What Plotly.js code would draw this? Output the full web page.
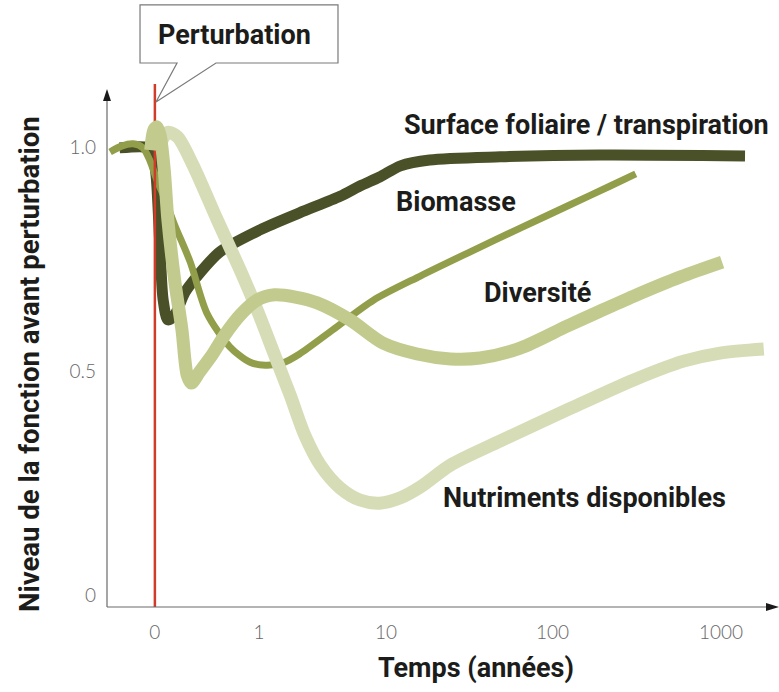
<!DOCTYPE html>
<html>
<head>
<meta charset="utf-8">
<script src="https://cdn.plot.ly/plotly-3.0.1.min.js"></script>
<style>html,body{margin:0;padding:0;background:#fff;}#chart{width:779px;height:692px;}</style>
</head>
<body>
<div id="chart"></div>
<script>
// x positions on the schematic time axis (0, 1, 10, 100, 1000 years at ticks)
const tickVals = [0, 1, 2.22, 3.82, 5.44];
const tickText = ["0", "1", "10", "100", "1000"];
const yTickVals = [0, 0.5, 1.0];
const yTickText = ["0", "0.5", "1.0"];

const surfaceX = [-0.34, -0.10, -0.03, 0.01, 0.05, 0.08, 0.125, 0.19, 0.29, 0.40, 0.625, 1.01, 1.39, 1.78, 1.97, 2.16, 2.36, 2.64, 3.32, 4.28, 5.67];
const surfaceY = [0.998, 1.0, 0.993, 0.94, 0.77, 0.658, 0.614, 0.625, 0.676, 0.71, 0.766, 0.815, 0.853, 0.89, 0.913, 0.933, 0.958, 0.971, 0.978, 0.982, 0.98];

const biomasseX = [-0.43, -0.32, -0.21, -0.115, -0.05, 0.02, 0.10, 0.19, 0.34, 0.50, 0.72, 0.91, 1.06, 1.23, 1.39, 1.71, 2.10, 2.55, 3.03, 3.51, 3.99, 4.375, 4.62];
const biomasseY = [0.989, 1.002, 1.007, 0.998, 0.971, 0.926, 0.882, 0.826, 0.743, 0.629, 0.554, 0.52, 0.513, 0.518, 0.538, 0.592, 0.658, 0.712, 0.766, 0.819, 0.871, 0.913, 0.94];

const diversiteX = [-0.04, -0.01, 0.02, 0.05, 0.09, 0.125, 0.19, 0.26, 0.31, 0.35, 0.43, 0.55, 0.67, 0.82, 0.98, 1.15, 1.35, 1.56, 1.875, 2.19, 2.52, 2.84, 3.125, 3.51, 3.96, 4.28, 4.60, 5.05, 5.45];
const diversiteY = [0.993, 1.038, 1.045, 1.027, 0.949, 0.837, 0.703, 0.592, 0.491, 0.473, 0.498, 0.536, 0.58, 0.625, 0.658, 0.67, 0.665, 0.652, 0.614, 0.5625, 0.538, 0.527, 0.529, 0.551, 0.60, 0.634, 0.667, 0.71, 0.743];

const nutrimentsX = [0.07, 0.125, 0.22, 0.365, 0.60, 0.82, 0.99, 1.15, 1.30, 1.44, 1.59, 1.78, 1.97, 2.16, 2.36, 2.55, 2.84, 3.32, 3.96, 4.60, 5.08, 5.43, 5.85];
const nutrimentsY = [1.016, 1.033, 1.022, 0.96, 0.837, 0.725, 0.632, 0.536, 0.446, 0.357, 0.29, 0.239, 0.212, 0.205, 0.217, 0.241, 0.29, 0.344, 0.413, 0.48, 0.522, 0.54, 0.549];

const perturbX = [0, 0];
const perturbY = [-0.03, 1.15];

const seriesNames = ["Surface foliaire / transpiration", "Biomasse", "Diversité", "Nutriments disponibles"];

// layout helpers (pixel -> paper)
const L = 107, R = 770, T = 84, B = 607;
const px = x => (x - L) / (R - L);
const py = y => (B - y) / (B - T);

const boldFont = "Roboto, 'DejaVu Sans Condensed', sans-serif";
const textCol = "#1c1c1a";

const traces = [
  {x: surfaceX, y: surfaceY, mode: "lines", line: {color: "#4a5027", width: 11, shape: "spline", smoothing: 0.8}, hoverinfo: "skip"},
  {x: biomasseX, y: biomasseY, mode: "lines", line: {color: "#939e4a", width: 7, shape: "spline", smoothing: 0.8}, hoverinfo: "skip"},
  {x: perturbX, y: perturbY, mode: "lines", line: {color: "#d13b2a", width: 2.5}, hoverinfo: "skip"},
  {x: nutrimentsX, y: nutrimentsY, mode: "lines", line: {color: "#d6ddb6", width: 13, shape: "spline", smoothing: 0.8}, hoverinfo: "skip"},
  {x: diversiteX, y: diversiteY, mode: "lines", line: {color: "#c2cb8d", width: 13, shape: "spline", smoothing: 0.8}, hoverinfo: "skip"}
];

function lab(text, cx, cy, size) {
  return {text: text, x: px(cx), y: py(cy), xref: "paper", yref: "paper", xanchor: "center", yanchor: "middle",
          showarrow: false, font: {family: boldFont, size: size, color: textCol, weight: "bold"}};
}

const P = (x, y) => px(x).toFixed(4) + "," + py(y).toFixed(4);

const layout = {
  width: 779, height: 692,
  margin: {l: L, r: 779 - R, t: T, b: 692 - B, pad: 0},
  paper_bgcolor: "#ffffff", plot_bgcolor: "#ffffff",
  showlegend: false,
  xaxis: {range: [-0.46, 5.91], showgrid: false, zeroline: false, showline: false, ticks: "",
          tickvals: tickVals, ticktext: tickText, ticklabelstandoff: 12,
          tickfont: {family: "Lato, 'Open Sans', sans-serif", size: 19, color: "#666666", weight: 300}},
  yaxis: {range: [-0.0268, 1.1406], showgrid: false, zeroline: false, showline: false, ticks: "",
          tickvals: yTickVals, ticktext: yTickText, ticklabelstandoff: 10,
          tickfont: {family: "Lato, 'Open Sans', sans-serif", size: 19, color: "#666666", weight: 300}},
  shapes: [
    // y axis + arrow
    {type: "line", xref: "paper", yref: "paper", x0: px(107), y0: py(607), x1: px(107), y1: py(96), line: {color: "#6a6a6a", width: 1.2}},
    {type: "path", xref: "paper", yref: "paper", path: "M" + P(107, 89) + " L" + P(103, 101) + " L" + P(111, 101) + " Z", fillcolor: "#1a1a1a", line: {width: 0}},
    // x axis + arrow
    {type: "line", xref: "paper", yref: "paper", x0: px(107), y0: py(607), x1: px(770), y1: py(607), line: {color: "#6a6a6a", width: 1.2}},
    {type: "path", xref: "paper", yref: "paper", path: "M" + P(779, 607) + " L" + P(766, 603) + " L" + P(766, 611) + " Z", fillcolor: "#1a1a1a", line: {width: 0}},
    // callout box
    {type: "path", xref: "paper", yref: "paper",
     path: "M" + P(177, 63) + " L" + P(140, 63) + " L" + P(140, 5) + " L" + P(338, 5) + " L" + P(338, 63) + " L" + P(216, 63) + " L" + P(156, 102) + " Z",
     fillcolor: "#ffffff", line: {color: "#7a7a7a", width: 1.2}}
  ],
  annotations: [
    lab("Perturbation", 234, 35, 27),
    lab(seriesNames[0], 586, 125, 27),
    lab(seriesNames[1], 456, 202, 27),
    lab(seriesNames[2], 537, 293, 27),
    lab(seriesNames[3], 584, 498, 27),
    lab("Temps (années)", 476, 668, 27),
    Object.assign(lab("Niveau de la fonction avant perturbation", 29, 364, 27.5), {textangle: -90})
  ]
};

Plotly.newPlot("chart", traces, layout, {displayModeBar: false, staticPlot: true});
</script>
</body>
</html>
